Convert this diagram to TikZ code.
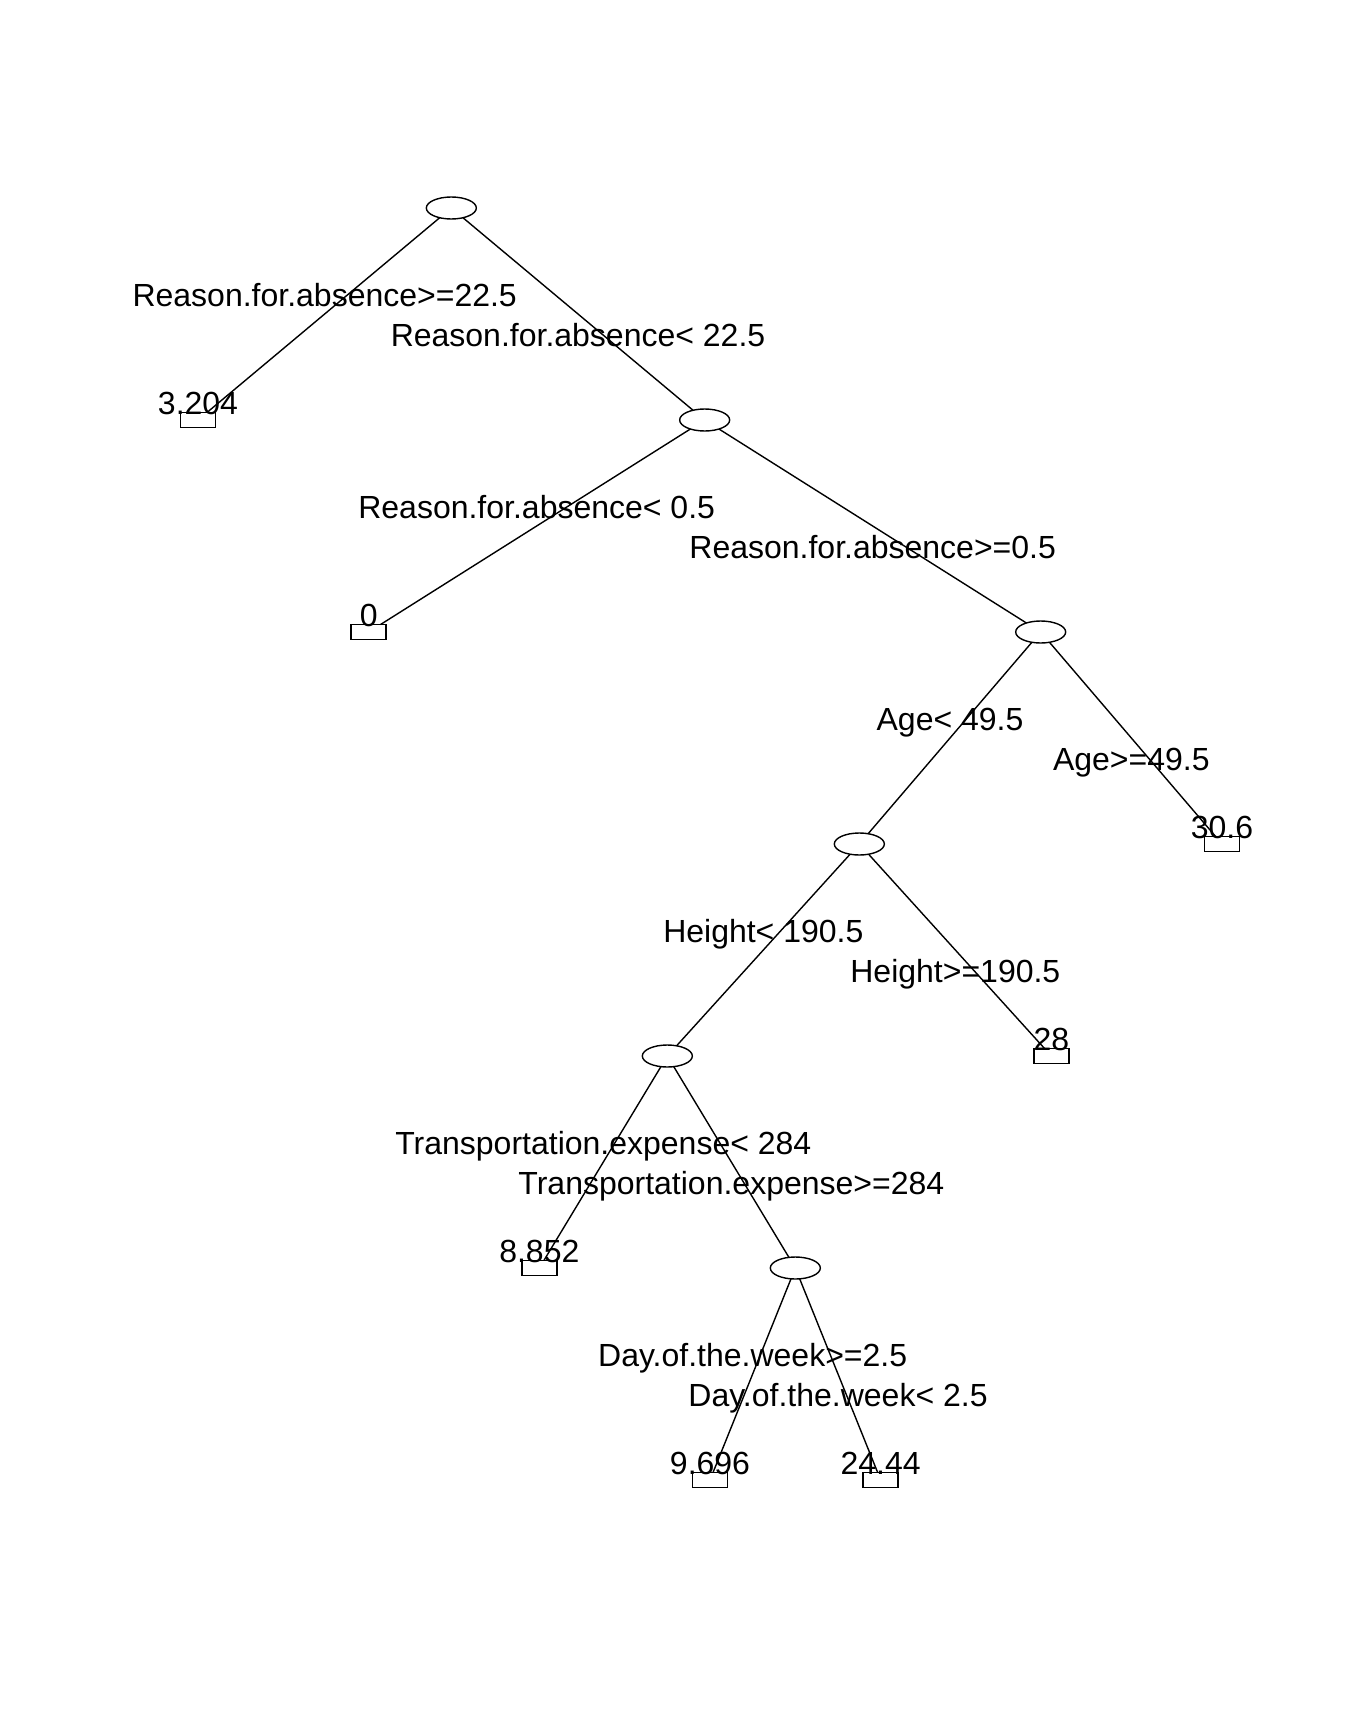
\documentclass[tikz,border=0pt]{standalone}
\usepackage{fontspec}
\setmainfont{Liberation Sans}
\usetikzlibrary{shapes.geometric}
\begin{document}
\begin{tikzpicture}[x=0.5pt,y=-0.5pt,
  splitnode/.style={ellipse,draw,line width=0.7pt,fill=white,inner sep=0pt,outer sep=0pt,minimum width=25pt,minimum height=11pt},
  leafbox/.style={rectangle,draw,line width=0.7pt,fill=white,inner sep=0pt,outer sep=0pt,minimum width=17.5pt,minimum height=7.5pt},
  branch/.style={line width=0.7pt},
  lab/.style={anchor=base,inner sep=0pt,font=\fontsize{16pt}{19pt}\selectfont},
]
\useasboundingbox[fill=white] (0,0) rectangle (1344,1728);
% internal nodes
\node[splitnode] (n1) at (451.33,208) {};
\node[splitnode] (n2) at (704.67,420) {};
\node[splitnode] (n3) at (1040.67,632) {};
\node[splitnode] (n4) at (859.33,844) {};
\node[splitnode] (n5) at (667.33,1056) {};
\node[splitnode] (n6) at (795.33,1268) {};
% leaves
\node[leafbox] (lA) at (198,420) {};
\node[leafbox] (lB) at (368.67,632) {};
\node[leafbox] (lG) at (1222,844) {};
\node[leafbox] (lF) at (1051.33,1056) {};
\node[leafbox] (lC) at (539.33,1268) {};
\node[leafbox] (lD) at (710,1480) {};
\node[leafbox] (lE) at (880.67,1480) {};
% branches
\draw[branch] (n1) -- (lA);
\draw[branch] (n1) -- (n2);
\draw[branch] (n2) -- (lB);
\draw[branch] (n2) -- (n3);
\draw[branch] (n3) -- (n4);
\draw[branch] (n3) -- (lG);
\draw[branch] (n4) -- (n5);
\draw[branch] (n4) -- (lF);
\draw[branch] (n5) -- (lC);
\draw[branch] (n5) -- (n6);
\draw[branch] (n6) -- (lD);
\draw[branch] (n6) -- (lE);
% split labels
\node[lab] (t1) at (324.67,306.5) {Reason.for.absence>=22.5};
\node[lab] (t2) at (578,346.5) {Reason.for.absence< 22.5};
\node[lab] (t3) at (536.67,518.5) {Reason.for.absence< 0.5};
\node[lab] (t4) at (872.67,558.5) {Reason.for.absence>=0.5};
\node[lab] (t5) at (950,730.5) {Age< 49.5};
\node[lab] (t6) at (1131.33,770.5) {Age>=49.5};
\node[lab] (t7) at (763.33,942.5) {Height< 190.5};
\node[lab] (t8) at (955.33,982.5) {Height>=190.5};
\node[lab] (t9) at (603.33,1154.5) {Transportation.expense< 284};
\node[lab] (t10) at (731.33,1194.5) {Transportation.expense>=284};
\node[lab] (t11) at (752.67,1366.5) {Day.of.the.week>=2.5};
\node[lab] (t12) at (838,1406.5) {Day.of.the.week< 2.5};
% leaf values
\node[lab,yshift=-1pt] (vA) at (lA.north) {3.204};
\node[lab,yshift=-1pt] (vB) at (lB.north) {0};
\node[lab,yshift=-1pt] (vG) at (lG.north) {30.6};
\node[lab,yshift=-1pt] (vF) at (lF.north) {28};
\node[lab,yshift=-1pt] (vC) at (lC.north) {8.852};
\node[lab,yshift=-1pt] (vD) at (lD.north) {9.696};
\node[lab,yshift=-1pt] (vE) at (lE.north) {24.44};
\end{tikzpicture}
\end{document}
